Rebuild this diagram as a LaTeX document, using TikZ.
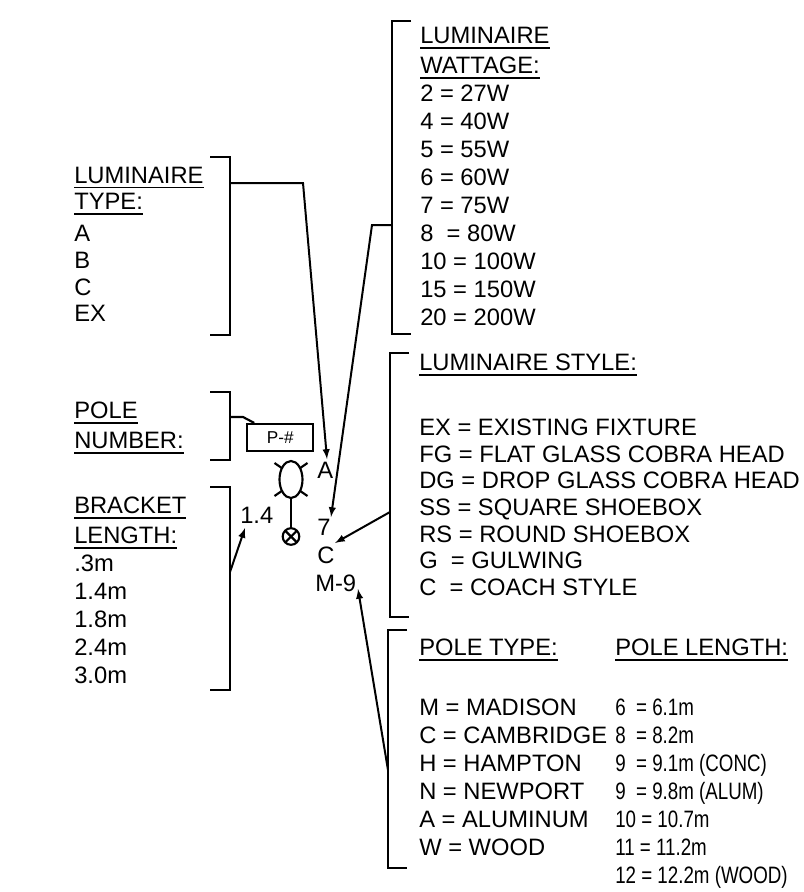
\documentclass[tikz,border=0pt]{standalone}
\usepackage{fontspec}
\setmainfont{Liberation Sans}
\newfontfamily\narrowfont[FakeStretch=0.79]{Liberation Sans}
\usepackage{tikz}
\usetikzlibrary{calc}
\newcommand\hdr[1]{\setbox0\hbox{#1}\rlap{\rule[-4pt]{\wd0}{1.4pt}}\box0}
\def\openbr(#1:#2:#3){\draw[brk] ({#1+19},#2) -- (#1,#2) -- (#1,#3) -- ({#1+19},#3)}
\def\closebr(#1:#2:#3){\draw[brk] ({#1-20},#2) -- (#1,#2) -- (#1,#3) -- ({#1-20},#3)}

\begin{document}
\begin{tikzpicture}[x=0.75pt,y=-0.75pt,
    brk/.style={line width=1.6pt},
    ptr/.style={line width=1.5pt,-latex},
    sym/.style={line width=1.6pt},
    lbl/.style={anchor=north west,inner sep=0pt,align=left,font=\fontsize{17.8}{21}\selectfont},
    tag/.style={anchor=base west,inner sep=0pt,font=\fontsize{17.8}{21}\selectfont}]
        \useasboundingbox (0,0) rectangle (803,892);

        %%% COORDINATES %%%
        \coordinate (typeJoin) at (303,183);
        \coordinate (typeTip) at (327,459);
        \coordinate (wattJoin) at (372,225);
        \coordinate (wattTip) at (331,517);
        \coordinate (styleFoot) at (390,512);
        \coordinate (styleTip) at (335,543);
        \coordinate (poleFoot) at (388,770);
        \coordinate (poleTip) at (358,589);
        \coordinate (brkFoot) at (230,572);
        \coordinate (brkTip) at (245,528);
        \coordinate (numJoin) at (243,417);
        \coordinate (lum) at (291,479.5);
        \coordinate (base) at (291,536.5);

        %%% LEGEND TEXTS %%%
        \node[lbl,font=\fontsize{17.8}{20}\selectfont] (lumtype) at (74,166.5) {\hdr{LUMINAIRE}\\\hdr{TYPE:}\\[4pt]A\\B\\C\\EX};
        \node[lbl] (polenum) at (74,401.5) {\hdr{POLE}\\[1.5pt]\hdr{NUMBER:}};
        \node[lbl] (brklen) at (74,496.5) {\hdr{BRACKET}\\[1.5pt]\hdr{LENGTH:}\\.3m\\1.4m\\1.8m\\2.4m\\3.0m};
        \node[lbl] (watt) at (420,27) {\hdr{LUMINAIRE}\\[1.5pt]\hdr{WATTAGE:}\\2 = 27W\\4 = 40W\\5 = 55W\\6 = 60W\\7 = 75W\\8 \ = 80W\\10 = 100W\\15 = 150W\\20 = 200W};
        \node[lbl,font=\fontsize{17.8}{20}\selectfont] (style) at (419,353.5) {\hdr{LUMINAIRE STYLE:}\\[28.75pt]EX = EXISTING FIXTURE\\FG = FLAT GLASS COBRA HEAD\\DG = DROP GLASS COBRA HEAD\\SS = SQUARE SHOEBOX\\RS = ROUND SHOEBOX\\G \ = GULWING\\C \ = COACH STYLE};
        \node[lbl] (poletype) at (419,638.5) {\hdr{POLE TYPE:}\\[24pt]M = MADISON\\C = CAMBRIDGE\\H = HAMPTON\\N = NEWPORT\\A = ALUMINUM\\W = WOOD};
        \node[lbl] (polelen) at (615,638.5) {\hdr{POLE LENGTH:}\\[24pt]\narrowfont 6 \ = 6.1m\\\narrowfont 8 \ = 8.2m\\\narrowfont 9 \ = 9.1m (CONC)\\\narrowfont 9 \ = 9.8m (ALUM)\\\narrowfont 10 = 10.7m\\\narrowfont 11 = 11.2m\\\narrowfont 12 = 12.2m (WOOD)};

        %%% BRACKETS %%%
        \closebr(230:157:335);
        \closebr(230:392:460);
        \closebr(230:487:690);
        \openbr(392:21:334);
        \openbr(390:353:617);
        \openbr(388:630:868);

        %%% SYMBOL %%%
        \node[draw,sym,minimum width=49.5pt,minimum height=20.25pt,inner sep=0pt,font=\fontsize{12.9}{15}\selectfont] (pnum) at (280.3,437.5) {P-\#};
        \draw[sym] (lum) ellipse (11.5 and 18.5);
        \foreach \sx in {-1,1}
            \foreach \sy in {-1,1}
                \draw[sym] ($(lum)+(\sx*8.5,\sy*11)$) -- ($(lum)+(\sx*16.5,\sy*16.5)$);
        \draw[sym] ($(lum)+(0,18.5)$) -- ($(base)+(0,-8.3)$);
        \draw[sym] (base) circle (8.3);
        \draw[sym] ($(base)+(-5.9,-5.9)$) -- ($(base)+(5.9,5.9)$);
        \draw[sym] ($(base)+(-5.9,5.9)$) -- ($(base)+(5.9,-5.9)$);

        %%% CALLOUT %%%
        \node[tag] (cA) at (317,478) {A};
        \node[tag] (c7) at (317,535) {7};
        \node[tag] (cC) at (317,563) {C};
        \node[tag] (cM) at (315,591.5) {M-9};
        \node[tag] (c14) at (240,523) {1.4};

        %%% LEADERS %%%
        \draw[ptr] (230,183) -- (typeJoin) -- (typeTip);
        \draw[ptr] (392,225) -- (wattJoin) -- (wattTip);
        \draw[ptr] (styleFoot) -- (styleTip);
        \draw[ptr] (poleFoot) -- (poleTip);
        \draw[ptr] (brkFoot) -- (brkTip);
        \draw[brk] (230,417) -- (numJoin) -- ($(pnum.north west)+(8,0)$);
    \end{tikzpicture}
\end{document}
